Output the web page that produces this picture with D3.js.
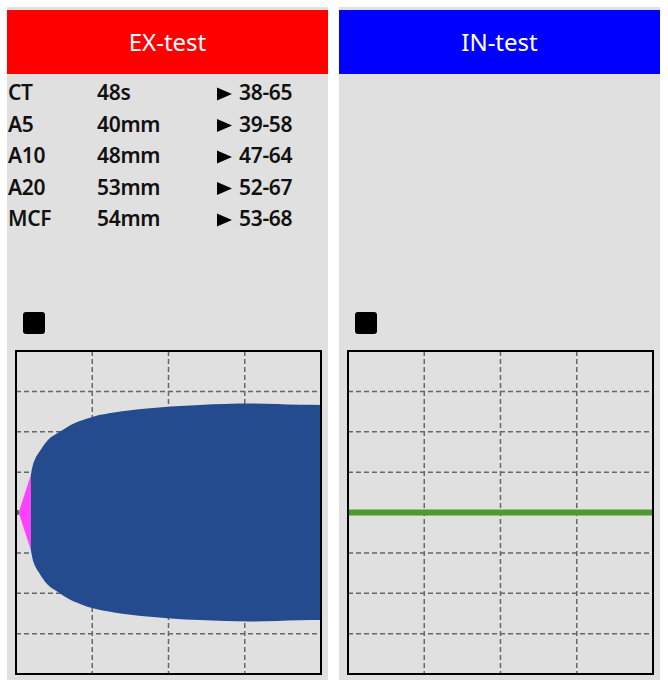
<!DOCTYPE html>
<html>
<head>
<meta charset="utf-8">
<script src="https://cdn.jsdelivr.net/npm/d3@7"></script>
<style>
  html, body { margin: 0; padding: 0; background: #ffffff; }
  text { font-family: "Noto Sans", "Open Sans", sans-serif; }
</style>
</head>
<body>
<div id="chart-container"></div>
<script>
// Test results (EX-test panel)
const paramNames = ["CT", "A5", "A10", "A20", "MCF"];
const paramValues = ["48s", "40mm", "48mm", "53mm", "54mm"];
const paramRanges = ["38-65", "39-58", "47-64", "52-67", "53-68"];

// Trace of the EX-test: time in minutes, amplitude in mm
const exBaseTime = [0, 0.35];
const exTime = [0.35, 1.95, 2.14, 2.5, 3.02, 4.1, 5.64, 7.0, 8.49, 10.23, 12.85, 17.2, 20.3, 24.1, 30.7, 37.2, 40];
const exAmp = [0, 18.6, 22.4, 26.5, 29.8, 35.6, 39.7, 43.0, 45.4, 47.6, 49.5, 51.5, 52.5, 53.3, 54, 53.4, 53.3];
const cftIndex = 1; // amplitude reaches ~20mm here: pink before, blue after

// IN-test: flat line only
const inTime = [0, 40];
const inAmp = [0, 0];

// Grid ticks
const timeTicks = [10, 20, 30];
const ampTicks = [-30, -20, -10, 0, 10, 20, 30];

window.onload = () => {
  const W = 668, H = 691;
  const svg = d3.select("#chart-container").append("svg")
    .attr("width", W).attr("height", H);

  svg.append("rect").attr("width", W).attr("height", H).attr("fill", "#ffffff");

  function drawPanel(left, title, headColor, opts) {
    const pw = 321;
    const g = svg.append("g").attr("transform", `translate(${left},0)`);

    // panel background + header
    g.append("rect").attr("x", 0).attr("y", 7).attr("width", pw).attr("height", 673).attr("fill", "#e0e0e0");
    g.append("rect").attr("x", 0).attr("y", 10).attr("width", pw).attr("height", 64).attr("fill", headColor);
    g.append("text")
      .attr("x", pw / 2).attr("y", 51)
      .attr("text-anchor", "middle")
      .attr("fill", "#ffffff")
      .style("font-size", "24px")
      .text(title);

    // parameter table
    if (opts.table) {
      const rows = g.selectAll(".row").data(paramNames).enter().append("g")
        .attr("class", "row")
        .attr("transform", (d, i) => `translate(0,${100 + i * 31.5})`);
      const txt = (sel) => sel.style("font-size", "21px").style("font-weight", 600)
        .style("letter-spacing", "-0.3px").attr("fill", "#111");
      rows.append("text").attr("x", 1).attr("y", 0).call(txt).text(d => d);
      rows.append("text").attr("x", 90).attr("y", 0).call(txt).text((d, i) => paramValues[i]);
      rows.append("path")
        .attr("d", "M210,-12.5L225,-6L210,0.5Z")
        .attr("fill", "#000");
      rows.append("text").attr("x", 232).attr("y", 0).call(txt).text((d, i) => paramRanges[i]);
    }

    // small black marker
    g.append("rect").attr("x", opts.markX).attr("y", 312).attr("width", 22).attr("height", 22)
      .attr("rx", 3).attr("fill", "#000");

    // plot area
    const bx = opts.boxX, bw = 305, by = 351, bh = 323;
    const x = d3.scaleLinear().domain([0, 40]).range([bx, bx + bw]);
    const y = d3.scaleLinear().domain([-40, 40]).range([by + bh, by]);

    const clipId = "clip" + left;
    g.append("clipPath").attr("id", clipId).append("rect")
      .attr("x", bx).attr("y", by).attr("width", bw).attr("height", bh);

    const grid = g.append("g")
      .attr("stroke", "#666").attr("stroke-width", 1.5).attr("stroke-dasharray", "5,3");
    grid.selectAll(".vx").data(timeTicks).enter().append("line")
      .attr("x1", d => x(d)).attr("x2", d => x(d)).attr("y1", by).attr("y2", by + bh);
    grid.selectAll(".hy").data(ampTicks).enter().append("line")
      .attr("x1", bx).attr("x2", bx + bw).attr("y1", d => y(d)).attr("y2", d => y(d));

    const plot = g.append("g").attr("clip-path", `url(#${clipId})`);

    if (opts.trace) {
      const pts = exTime.map((t, i) => ({ t: t, a: exAmp[i] }));
      const areaLin = d3.area().x(d => x(d.t)).y0(d => y(-d.a / 2)).y1(d => y(d.a / 2));
      const areaCurve = d3.area().x(d => x(d.t)).y0(d => y(-d.a / 2)).y1(d => y(d.a / 2))
        .curve(d3.curveMonotoneX);
      plot.append("path").datum(pts.slice(0, cftIndex + 1)).attr("d", areaLin).attr("fill", "#ff40ff");
      plot.append("path").datum(pts.slice(cftIndex)).attr("d", areaCurve).attr("fill", "#254b8f");
      plot.append("line")
        .attr("x1", x(exBaseTime[0])).attr("x2", x(exBaseTime[1]))
        .attr("y1", y(0)).attr("y2", y(0))
        .attr("stroke", "#1f7a1f").attr("stroke-width", 5);
    } else {
      const line = d3.line().x((d, i) => x(inTime[i])).y(d => y(d));
      plot.append("path").datum(inAmp).attr("d", line)
        .attr("fill", "none").attr("stroke", "#4e9a2e").attr("stroke-width", 6);
    }

    g.append("rect").attr("x", bx).attr("y", by).attr("width", bw).attr("height", bh)
      .attr("fill", "none").attr("stroke", "#000").attr("stroke-width", 2);
  }

  drawPanel(7, "EX-test", "#ff0000", { table: true, trace: true, markX: 16, boxX: 9 });
  drawPanel(339, "IN-test", "#0000ff", { table: false, trace: false, markX: 16, boxX: 9 });
};
</script>
</body>
</html>
